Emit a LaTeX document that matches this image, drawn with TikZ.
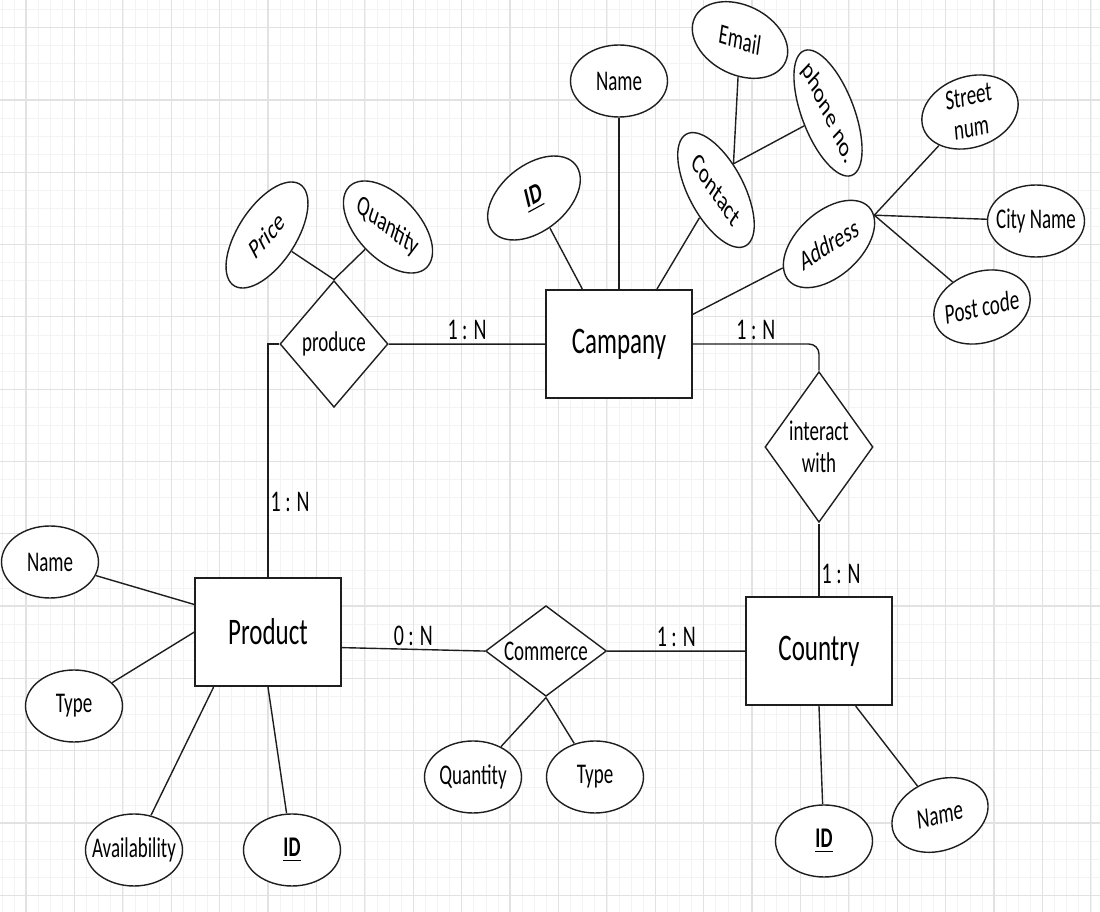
\documentclass[tikz,border=0pt]{standalone}
\usepackage{fontspec}
\setmainfont{Carlito}
\usetikzlibrary{shapes.geometric}

\definecolor{gridminor}{HTML}{F3F3F3}
\definecolor{gridmajor}{HTML}{E2E2E2}
\definecolor{ink}{HTML}{1E1E1E}

\tikzset{
    entity/.style={draw=ink, line width=0.7pt, fill=white, rectangle, inner sep=0pt, minimum width=73pt, minimum height=36pt, font=\fontsize{12.5}{14}\selectfont},
    attrib/.style={draw=ink, line width=0.7pt, fill=white, ellipse, inner xsep=-12pt, inner ysep=-5pt, minimum width=48.5pt, minimum height=24pt, align=center, font=\fontsize{9.5}{10.5}\selectfont},
    relship/.style={draw=ink, line width=0.7pt, fill=white, diamond, inner sep=0pt, align=center, font=\fontsize{9.5}{10.7}\selectfont},
    card/.style={inner sep=1pt, font=\fontsize{10}{12}\selectfont},
    link/.style={draw=ink, line width=0.7pt}
}

\begin{document}
\begin{tikzpicture}[x=0.5pt, y=-0.33333pt, yscale=1.5, transform shape]
    \useasboundingbox (0, 0) rectangle (1100, 912);
    \fill [white] (0, 0) rectangle (1100, 912);
    % paper grid
    \foreach \gx in {2,14.1,...,1100} \draw [gridminor, line width=0.5pt] (\gx, 0) -- (\gx, 912);
    \foreach \gy in {9.6,27.68,...,912} \draw [gridminor, line width=0.5pt] (0, \gy) -- (1100, \gy);
    \foreach \gx in {26,74.4,...,1100} \draw [gridmajor, line width=0.6pt] (\gx, 0) -- (\gx, 912);
    \foreach \gy in {27.7,100,...,912} \draw [gridmajor, line width=0.6pt] (0, \gy) -- (1100, \gy);

    % entities and relationships
    \node (campany) [entity] at (619, 344) {Campany};
    \node (product) [entity] at (268, 632) {Product};
    \node (country) [entity] at (819, 651) {Country};
    \node (produce) [relship, aspect=1.28, minimum width=54pt, minimum height=42.3pt] at (334, 344) {produce};
    \node (interact) [relship, aspect=1.07, minimum width=54pt, minimum height=50.3pt] at (819, 447) {interact\\with};
    \node (commerce) [relship, aspect=2, minimum width=60.5pt, minimum height=30.3pt] at (546, 651) {Commerce};

    % attributes
    \node (price) [attrib, rotate=38] at (267, 235) {Price};
    \node (prodqty) [attrib, rotate=-27] at (388, 227) {Quantity};
    \node (campid) [attrib, rotate=20] at (534, 198) {\textbf{\underline{ID}}};
    \node (campname) [attrib] at (619, 81) {Name};
    \node (contact) [attrib, rotate=-45] at (716, 190) {Contact};
    \node (email) [attrib, rotate=-12] at (740, 40) {Email};
    \node (phone) [attrib, rotate=-55] at (828, 113) {phone no.};
    \node (address) [attrib, rotate=23] at (829, 244) {Address};
    \node (street) [attrib, rotate=8] at (970, 112) {Street\\num};
    \node (city) [attrib] at (1036, 221) {City Name};
    \node (postcode) [attrib, rotate=8] at (982, 307) {Post code};
    \node (prodname) [attrib] at (50, 562) {Name};
    \node (prodtype) [attrib] at (74, 706) {Type};
    \node (avail) [attrib] at (134, 850) {Availability};
    \node (prodid) [attrib] at (292, 850) {\textbf{\underline{ID}}};
    \node (commqty) [attrib] at (473, 777) {Quantity};
    \node (commtype) [attrib] at (595, 777) {Type};
    \node (ctryid) [attrib] at (824, 841) {\textbf{\underline{ID}}};
    \node (ctryname) [attrib, rotate=9] at (940, 815) {Name};

    % relationship lines
    \draw [link] (produce) -- node [card, above] {1 : N} (campany);
    \draw [link] (produce.west) -| node [card, pos=0.84, right] {1 : N} (product.north);
    \draw [link, rounded corners=5pt] (campany.east) -| node [card, pos=0.25, above] {1 : N} (interact.north);
    \draw [link] (interact) -- node [card, pos=0.7, right] {1 : N} (country);
    \draw [link] (product.-8) -- node [card, above] {0 : N} (commerce.west);
    \draw [link] (commerce) -- node [card, above] {1 : N} (country);

    % attribute lines
    \draw [link] (price) -- (produce.north);
    \draw [link] (prodqty) -- (produce.north);
    \draw [link] (campid) -- (campany.135);
    \draw [link] (campname) -- (campany.north);
    \draw [link] (contact) -- (campany.44);
    \draw [link] (email) -- (contact.north);
    \draw [link] (phone) -- (contact.north);
    \draw [link] (address) -- (campany.15);
    \draw [link] (address.east) -- (street);
    \draw [link] (address.east) -- (city);
    \draw [link] (address.east) -- (postcode);
    \draw [link] (prodname) -- (product.166);
    \draw [link] (prodtype) -- (product.west);
    \draw [link] (avail) -- (product.214);
    \draw [link] (prodid) -- (product.south);
    \draw [link] (commqty) -- (commerce.south);
    \draw [link] (commtype) -- (commerce.south);
    \draw [link] (country.south) -- (ctryid);
    \draw [link] (country.-45) -- (ctryname);
\end{tikzpicture}
\end{document}
